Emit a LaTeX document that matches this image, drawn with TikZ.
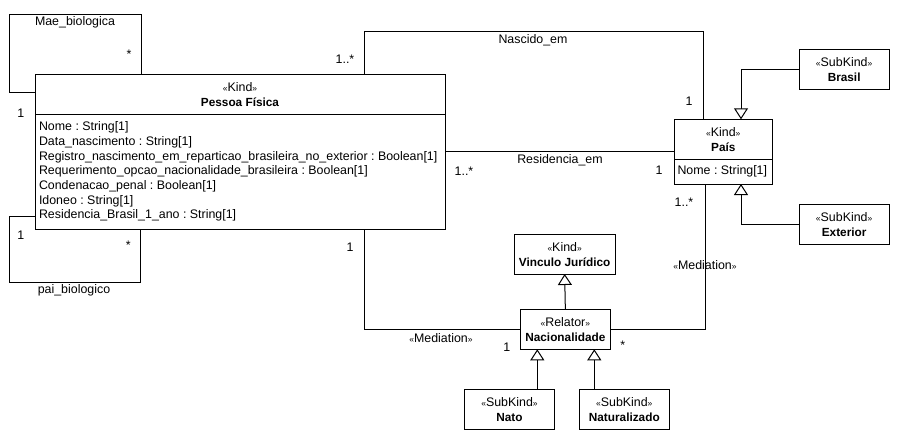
\documentclass[tikz,border=0pt]{standalone}
\usepackage{fontspec}
\setmainfont{Liberation Sans}
\usetikzlibrary{arrows.meta}
\frenchspacing
\newcommand{\stereo}[1]{{\fontsize{8.5}{9}\selectfont«}#1{\fontsize{8.5}{9}\selectfont»}}
\newcommand{\clsname}[1]{{\fontsize{11.8}{14}\selectfont\bfseries #1}}
\begin{document}
\begin{tikzpicture}[x=1pt,y=-1pt,line width=1pt,
  every node/.style={font=\fontsize{12.4}{15}\selectfont},
  cls/.style={draw,fill=white,inner sep=0pt,outer sep=0pt,anchor=north west,align=center},
  lbl/.style={inner sep=0pt,outer sep=0pt},
  attr/.style={inner sep=0pt,outer sep=0pt,anchor=west},
  assoc/.style={draw,line width=1pt},
  gen/.style={draw,line width=1pt,-{Triangle[open,length=11pt,width=14pt,fill=white]}}]
\useasboundingbox (0,0) rectangle (900,439);

% column and row positions of the connectors
\coordinate (cx1) at (364.3,0);
\coordinate (cx2) at (703.3,0);
\coordinate (cx3) at (705.7,0);
\coordinate (gx)  at (741,0);
\coordinate (lx)  at (9,0);
\coordinate (mx)  at (141,0);
\coordinate (px)  at (140.3,0);
\coordinate (nx1) at (537.3,0);
\coordinate (nx2) at (594.3,0);
\coordinate (ny)  at (0,31.7);
\coordinate (ry)  at (0,151.7);
\coordinate (my1) at (0,14.3);
\coordinate (my2) at (0,92.7);
\coordinate (py1) at (0,216.7);
\coordinate (py2) at (0,282.3);

% classes
\node[cls,minimum width=410.7,minimum height=155] (pf) at (35,74.3) {};
\draw (35,114.3) -- (445.7,114.3);
\node[lbl] (pfst) at (240,87) {\stereo{Kind}};
\node[lbl] (pfnm) at (240,102) {\clsname{Pessoa Física}};
\node[attr] (a1) at (39,127.5) {Nome : String[1]};
\node[attr] (a2) at (39,142.2) {Data\_nascimento : String[1]};
\node[attr] (a3) at (39,156.8) {Registro\_nascimento\_em\_reparticao\_brasileira\_no\_exterior : Boolean[1]};
\node[attr] (a4) at (39,171.5) {Requerimento\_opcao\_nacionalidade\_brasileira : Boolean[1]};
\node[attr] (a5) at (39,186.2) {Condenacao\_penal : Boolean[1]};
\node[attr] (a6) at (39,200.8) {Idoneo : String[1]};
\node[attr] (a7) at (39,215.5) {Residencia\_Brasil\_1\_ano : String[1]};

\node[cls,minimum width=98,minimum height=64.7] (pais) at (674.3,119.3) {};
\draw (674.3,159) -- (772.3,159);
\node[lbl] (paisst) at (723.3,132) {\stereo{Kind}};
\node[lbl] (paisnm) at (723.3,147) {\clsname{País}};
\node[attr] (pa1) at (677.5,171.5) {Nome : String[1]};

\node[cls,minimum width=90.3,minimum height=39.6] (bras) at (799,49.7) {\stereo{SubKind}\\\clsname{Brasil}};
\node[cls,minimum width=90.3,minimum height=39.7] (ext) at (799,204.3) {\stereo{SubKind}\\\clsname{Exterior}};
\node[cls,minimum width=101.3,minimum height=39.7] (vin) at (514,234.3) {\stereo{Kind}\\\clsname{Vinculo Jurídico}};
\node[cls,minimum width=90.7,minimum height=40] (nac) at (520,309.3) {\stereo{Relator}\\\clsname{Nacionalidade}};
\node[cls,minimum width=90.4,minimum height=39.7] (nato) at (464.3,389.3) {\stereo{SubKind}\\\clsname{Nato}};
\node[cls,minimum width=90,minimum height=39.7] (natu) at (579.3,389.3) {\stereo{SubKind}\\\clsname{Naturalizado}};

% self associations
\draw[assoc] (pf.west |- my2) -- (lx |- my2) -- (lx |- my1) -- (mx |- my1) -- (pf.north -| mx);
\draw[assoc] (pf.west |- py1) -- (lx |- py1) -- (lx |- py2) -- (px |- py2) -- (pf.south -| px);

% associations
\draw[assoc] (pf.north -| cx1) -- (cx1 |- ny) -- (cx2 |- ny) -- (pais.north -| cx2);
\draw[assoc] (pf.east |- ry) -- (pais.west |- ry);
\draw[assoc] (pf.south -| cx1) |- (nac.west);
\draw[assoc] (pais.south -| cx3) |- (nac.east);

% generalizations
\draw[gen] (bras.west) -| (pais.north -| gx);
\draw[gen] (ext.west) -| (pais.south -| gx);
\draw[gen] (nac.north) -- (vin.south);
\draw[gen] (nato.north -| nx1) -- (nac.south -| nx1);
\draw[gen] (natu.north -| nx2) -- (nac.south -| nx2);

% association labels
\node[lbl] (l1) at (75,22) {Mae\_biologica};
\node[lbl] (l2) at (129,54) {*};
\node[lbl] (l3) at (20.7,113) {1};
\node[lbl] (l4) at (345,59) {1..*};
\node[lbl] (l5) at (533,40) {Nascido\_em};
\node[lbl] (l6) at (689,101) {1};
\node[lbl] (l7) at (560,160) {Residencia\_em};
\node[lbl] (l8) at (464,171) {1..*};
\node[lbl] (l9) at (659,170.5) {1};
\node[lbl] (l10) at (684,202) {1..*};
\node[lbl] (l11) at (705,265) {\stereo{Mediation}};
\node[lbl] (l12) at (441,338) {\stereo{Mediation}};
\node[lbl] (l13) at (506.7,347) {1};
\node[lbl] (l14) at (622.7,345) {*};
\node[lbl] (l15) at (350,247) {1};
\node[lbl] (l16) at (20.7,235) {1};
\node[lbl] (l17) at (128.3,245) {*};
\node[lbl] (l18) at (74,290) {pai\_biologico};
\end{tikzpicture}
\end{document}
